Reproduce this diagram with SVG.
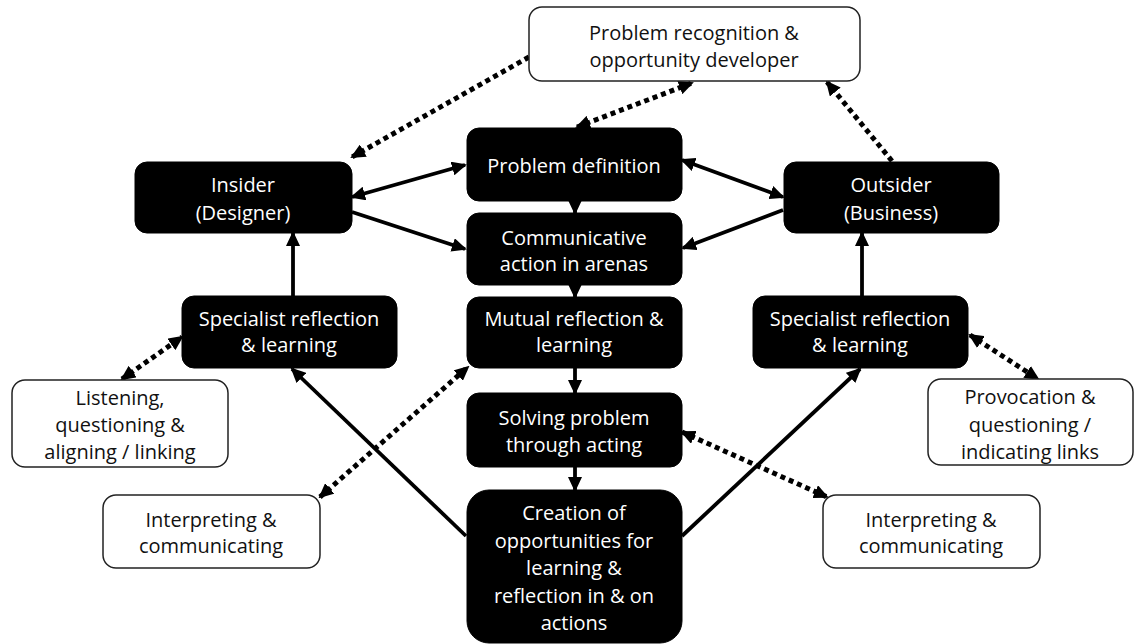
<svg xmlns="http://www.w3.org/2000/svg" width="1137" height="644" viewBox="0 0 1137 644">
  <style>
    .dark rect { fill: #000; stroke: #000; stroke-width: 1; }
    .light rect { fill: #fff; stroke: #222; stroke-width: 1.5; }
    text { font-family: "Open Sans", "Liberation Sans", sans-serif; font-size: 20px; text-anchor: middle; }
    .dark text { fill: #fff; }
    .light text { fill: #111; }
    .solid { fill: none; stroke: #000; stroke-width: 3.8; }
    .dotted { fill: none; stroke: #000; stroke-width: 5; stroke-dasharray: 5 4; }
  </style>
  <defs>
    <marker id="head" viewBox="0 0 15 14" refX="13" refY="7" markerWidth="15" markerHeight="14" markerUnits="userSpaceOnUse" orient="auto-start-reverse">
      <path d="M0,0 L15,7 L0,14 Z" fill="#000"/>
    </marker>
  </defs>

  <rect width="1137" height="644" fill="#fff"/>

  <!-- connectors -->
  <g id="connectors">
    <path class="dotted" d="M529,57 L352,157" marker-end="url(#head)"/>
    <path class="dotted" d="M577,127 L692,83" marker-start="url(#head)" marker-end="url(#head)"/>
    <path class="dotted" d="M892,161 L827,82" marker-end="url(#head)"/>
    <path class="solid" d="M352,197 L465,165" marker-start="url(#head)" marker-end="url(#head)"/>
    <path class="solid" d="M352,212 L465,249" marker-end="url(#head)"/>
    <path class="solid" d="M682,160 L783,197" marker-start="url(#head)" marker-end="url(#head)"/>
    <path class="solid" d="M783,210 L683,248" marker-end="url(#head)"/>
    <path class="solid" d="M575,200 L575,213" marker-end="url(#head)"/>
    <path class="solid" d="M575,284 L575,297" marker-end="url(#head)"/>
    <path class="solid" d="M575,368 L575,393" marker-end="url(#head)"/>
    <path class="solid" d="M575,467 L575,490" marker-end="url(#head)"/>
    <path class="solid" d="M293,296 L293,233" marker-end="url(#head)"/>
    <path class="solid" d="M862,296 L862,233" marker-end="url(#head)"/>
    <path class="solid" d="M466,536 L292,369" marker-end="url(#head)"/>
    <path class="solid" d="M682,536 L860,369" marker-end="url(#head)"/>
    <path class="dotted" d="M320,497 L468,367" marker-start="url(#head)" marker-end="url(#head)"/>
    <path class="dotted" d="M682,432 L827,497" marker-start="url(#head)" marker-end="url(#head)"/>
    <path class="dotted" d="M122,379 L182,337" marker-start="url(#head)" marker-end="url(#head)"/>
    <path class="dotted" d="M970,335 L1038,379" marker-start="url(#head)" marker-end="url(#head)"/>
  </g>

  <!-- white role boxes -->
  <g id="problem-recognition" class="light">
    <rect x="529" y="7" width="331" height="74" rx="13"/>
    <text x="694" y="40">Problem recognition &amp;</text>
    <text x="694" y="67">opportunity developer</text>
  </g>
  <g id="listening" class="light">
    <rect x="12" y="380" width="216" height="87" rx="13"/>
    <text x="120" y="405">Listening,</text>
    <text x="120" y="432">questioning &amp;</text>
    <text x="120" y="459">aligning / linking</text>
  </g>
  <g id="provocation" class="light">
    <rect x="928" y="379" width="205" height="86" rx="13"/>
    <text x="1030" y="404">Provocation &amp;</text>
    <text x="1030" y="432">questioning /</text>
    <text x="1030" y="459">indicating links</text>
  </g>
  <g id="interpreting-left" class="light">
    <rect x="103" y="495" width="217" height="73" rx="13"/>
    <text x="211" y="527">Interpreting &amp;</text>
    <text x="211" y="553">communicating</text>
  </g>
  <g id="interpreting-right" class="light">
    <rect x="823" y="495" width="217" height="73" rx="13"/>
    <text x="931" y="527">Interpreting &amp;</text>
    <text x="931" y="553">communicating</text>
  </g>

  <!-- black process boxes -->
  <g id="insider" class="dark">
    <rect x="135" y="162" width="217" height="71" rx="12"/>
    <text x="243" y="192">Insider</text>
    <text x="243" y="220">(Designer)</text>
  </g>
  <g id="outsider" class="dark">
    <rect x="784" y="162" width="215" height="71" rx="12"/>
    <text x="891" y="192">Outsider</text>
    <text x="891" y="220">(Business)</text>
  </g>
  <g id="problem-definition" class="dark">
    <rect x="467" y="128" width="215" height="73" rx="12"/>
    <text x="574" y="173">Problem definition</text>
  </g>
  <g id="communicative-action" class="dark">
    <rect x="467" y="213" width="215" height="72" rx="12"/>
    <text x="574" y="245">Communicative</text>
    <text x="574" y="271">action in arenas</text>
  </g>
  <g id="mutual-reflection" class="dark">
    <rect x="467" y="297" width="215" height="71" rx="12"/>
    <text x="574" y="326">Mutual reflection &amp;</text>
    <text x="574" y="352">learning</text>
  </g>
  <g id="specialist-left" class="dark">
    <rect x="182" y="296" width="215" height="72" rx="12"/>
    <text x="289" y="326">Specialist reflection</text>
    <text x="289" y="352">&amp; learning</text>
  </g>
  <g id="specialist-right" class="dark">
    <rect x="753" y="296" width="215" height="72" rx="12"/>
    <text x="860" y="326">Specialist reflection</text>
    <text x="860" y="352">&amp; learning</text>
  </g>
  <g id="solving-problem" class="dark">
    <rect x="467" y="393" width="215" height="74" rx="12"/>
    <text x="574" y="425">Solving problem</text>
    <text x="574" y="452">through acting</text>
  </g>
  <g id="creation" class="dark">
    <rect x="467" y="490" width="215" height="153" rx="22"/>
    <text x="574" y="520">Creation of</text>
    <text x="574" y="548">opportunities for</text>
    <text x="574" y="575">learning &amp;</text>
    <text x="574" y="603">reflection in &amp; on</text>
    <text x="574" y="630">actions</text>
  </g>
</svg>
